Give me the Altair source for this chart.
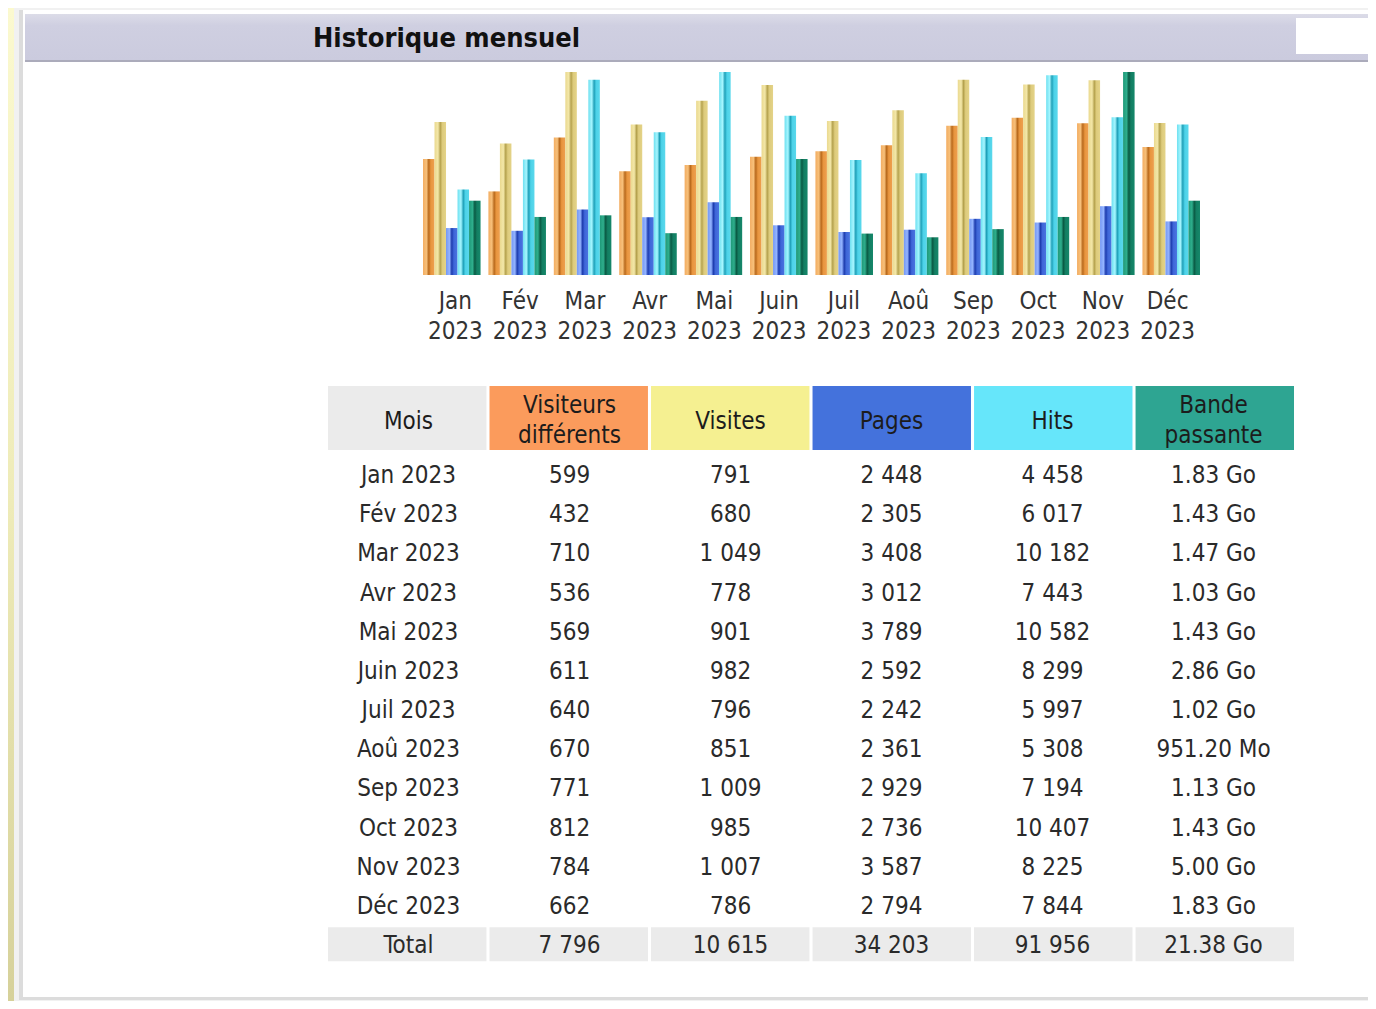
import altair as alt
import pandas as pd

# ---------------- data ----------------
mois = ["Jan", "Fév", "Mar", "Avr", "Mai", "Juin", "Juil", "Aoû", "Sep", "Oct", "Nov", "Déc"]
annee = "2023"
visiteurs = [599, 432, 710, 536, 569, 611, 640, 670, 771, 812, 784, 662]
visites = [791, 680, 1049, 778, 901, 982, 796, 851, 1009, 985, 1007, 786]
pages = [2448, 2305, 3408, 3012, 3789, 2592, 2242, 2361, 2929, 2736, 3587, 2794]
hits = [4458, 6017, 10182, 7443, 10582, 8299, 5997, 5308, 7194, 10407, 8225, 7844]
bande_go = [1.83, 1.43, 1.47, 1.03, 1.43, 2.86, 1.02, 0.929, 1.13, 1.43, 5.00, 1.83]
bande_txt = ["1.83 Go", "1.43 Go", "1.47 Go", "1.03 Go", "1.43 Go", "2.86 Go",
             "1.02 Go", "951.20 Mo", "1.13 Go", "1.43 Go", "5.00 Go", "1.83 Go"]
bande_total_txt = "21.38 Go"
colonnes = ["Mois", "Visiteurs différents", "Visites", "Pages", "Hits", "Bande passante"]
entetes = ["Mois", "Visiteurs\ndifférents", "Visites", "Pages", "Hits", "Bande\npassante"]
couleurs_entete = ["#ebebeb", "#fb9b5c", "#f5f091", "#4472dc", "#66e6fa", "#2ea592"]
titre = "Historique mensuel"

FONT = "DejaVu Sans Condensed, Liberation Sans, sans-serif"
W, H = 1360, 993

# ---------------- tables ----------------
series = ["u", "v", "p", "h", "k"]
max_v = max(visites)
max_h = max(hits)
max_k = max(bande_go)
rows = []
for i, m in enumerate(mois):
    rows.append({"mois": m, "serie": "u", "norm": visiteurs[i] / max_v})
    rows.append({"mois": m, "serie": "v", "norm": visites[i] / max_v})
    rows.append({"mois": m, "serie": "p", "norm": pages[i] / max_h})
    rows.append({"mois": m, "serie": "h", "norm": hits[i] / max_h})
    rows.append({"mois": m, "serie": "k", "norm": bande_go[i] / max_k})
df_bars = pd.DataFrame(rows)

df_lab = pd.DataFrame({"mois": mois, "label": [f"{m}\n{annee}" for m in mois]})


def fmt(v):
    return f"{v:,}".replace(",", " ")


lignes = [f"{m} {annee}" for m in mois] + ["Total"]
trows = []
for i, m in enumerate(mois):
    vals = [f"{m} {annee}", fmt(visiteurs[i]), fmt(visites[i]), fmt(pages[i]), fmt(hits[i]), bande_txt[i]]
    for c, t in zip(colonnes, vals):
        trows.append({"ligne": f"{m} {annee}", "colonne": c, "texte": t})
tot = ["Total", fmt(sum(visiteurs)), fmt(sum(visites)), fmt(sum(pages)), fmt(sum(hits)), bande_total_txt]
for c, t in zip(colonnes, tot):
    trows.append({"ligne": "Total", "colonne": c, "texte": t})
df_table = pd.DataFrame(trows)
df_head = pd.DataFrame({"colonne": colonnes, "entete": entetes,
                        "nl": [e.count("\n") + 1 for e in entetes]})
df_tot = pd.DataFrame({"colonne": colonnes, "ligne": ["Total"] * len(colonnes)})
one = pd.DataFrame({"k": [0]})

# ---------------- helpers ----------------
def grad(stops, vertical=False):
    return alt.Gradient(
        gradient="linear",
        stops=[alt.GradientStop(color=c, offset=o) for o, c in stops],
        x1=0, x2=0 if vertical else 1, y1=0, y2=1 if vertical else 0,
    )


def deco(x1, y1, x2, y2, color):
    return alt.Chart(one).mark_rect(color=color).encode(
        x=alt.value(x1), x2=alt.value(x2), y=alt.value(y1), y2=alt.value(y2)
    )


# ---------------- decorations ----------------
bg = deco(0, 0, W, H, grad([(0, "#fbf9cf"), (0.5, "#eeebb8"), (1, "#d6d19a")], vertical=True))
panel_sh1 = deco(6, -2, W, 995, "#f1f1f1")
panel_sh2 = deco(11, 2, W, 992, "#dcdcdc")
panel = deco(15, 2, W, 989, "#ffffff")
head_bar = deco(17, 6, W, 52, grad([(0, "#dcdce8"), (0.25, "#cfcfe1"), (1, "#cbcbde")], vertical=True))
head_line = deco(17, 52, W, 54, "#ababbb")
head_box = deco(1288, 10, W, 46, "#ffffff")
title = alt.Chart(one).mark_text(
    text=titre, font=FONT, fontSize=27, fontWeight="bold", align="left",
    baseline="alphabetic", color="#111111"
).encode(x=alt.value(305), y=alt.value(39))

# ---------------- bars ----------------
xs = alt.Scale(domain=mois, range=[415, 1192], paddingInner=0.12, paddingOuter=0)
ys = alt.Scale(domain=[0, 1], range=[267, 64])
grads = {
    "u": [(0, "#f3ad62"), (0.3, "#f7c07a"), (0.5, "#b8691c"), (0.68, "#e8953e"), (1, "#eda050")],
    "v": [(0, "#ead98f"), (0.3, "#f3e7a8"), (0.5, "#b5a24e"), (0.68, "#ddcb7c"), (1, "#e4d388")],
    "p": [(0, "#7498f4"), (0.3, "#94b4ff"), (0.5, "#1d3cae"), (0.68, "#3e66d8"), (1, "#4a74e0")],
    "h": [(0, "#6ee0f0"), (0.3, "#a6f6ff"), (0.5, "#1fa0b8"), (0.68, "#4cd2e8"), (1, "#5ad8ec")],
    "k": [(0, "#1f9878"), (0.3, "#2eae8c"), (0.5, "#0a5a44"), (0.68, "#137e62"), (1, "#15876a")],
}
bar_layers = []
for s in series:
    bar_layers.append(
        alt.Chart(df_bars).transform_filter(alt.datum.serie == s).mark_bar(
            color=grad(grads[s]), strokeWidth=0
        ).encode(
            x=alt.X("mois:N", scale=xs, axis=None),
            xOffset=alt.XOffset("serie:N", scale=alt.Scale(domain=series, paddingInner=0, paddingOuter=0)),
            y=alt.Y("norm:Q", scale=ys, axis=None),
        )
    )

month_labels = alt.Chart(df_lab).mark_text(
    font=FONT, fontSize=24, lineBreak="\n", lineHeight=30, baseline="alphabetic", color="#333333"
).encode(x=alt.X("mois:N", scale=xs, axis=None), y=alt.value(301), text="label:N")

# ---------------- table ----------------
cs = alt.Scale(domain=colonnes, range=[320, 1286], paddingInner=0.019, paddingOuter=0)
rs = alt.Scale(domain=lignes, range=[446.4, 955.8], paddingInner=0.132, paddingOuter=0.066)

head_rects = alt.Chart(df_head).mark_rect().encode(
    x=alt.X("colonne:N", scale=cs, axis=None),
    y=alt.value(378), y2=alt.value(442),
    color=alt.Color("colonne:N", scale=alt.Scale(domain=colonnes, range=couleurs_entete), legend=None),
)
head_text1 = alt.Chart(df_head).transform_filter(alt.datum.nl == 1).mark_text(
    font=FONT, fontSize=24, baseline="middle", color="#1c1c1c"
).encode(x=alt.X("colonne:N", scale=cs, axis=None), y=alt.value(414), text="entete:N")
head_text2 = alt.Chart(df_head).transform_filter(alt.datum.nl == 2).mark_text(
    font=FONT, fontSize=24, lineBreak="\n", lineHeight=30, baseline="middle", color="#1c1c1c"
).encode(x=alt.X("colonne:N", scale=cs, axis=None), y=alt.value(398), text="entete:N")

tot_rects = alt.Chart(df_tot).mark_rect(color="#ebebeb").encode(
    x=alt.X("colonne:N", scale=cs, axis=None),
    y=alt.Y("ligne:N", scale=rs, axis=None),
)
cells = alt.Chart(df_table).mark_text(
    font=FONT, fontSize=24, baseline="middle", color="#2a2a2a", dy=2
).encode(
    x=alt.X("colonne:N", scale=cs, axis=None),
    y=alt.Y("ligne:N", scale=rs, axis=None),
    text="texte:N",
)

chart = alt.layer(
    bg, panel_sh1, panel_sh2, panel, head_bar, head_line, head_box, title,
    *bar_layers, month_labels, head_rects, head_text1, head_text2, tot_rects, cells
).resolve_scale(
    x="independent", y="independent", color="independent", xOffset="independent"
).properties(
    width=W, height=H, padding=0, autosize=alt.AutoSizeParams(type="none")
).configure_view(stroke=None)

chart.save("out.html", embed_options={"renderer": "svg", "actions": False})
